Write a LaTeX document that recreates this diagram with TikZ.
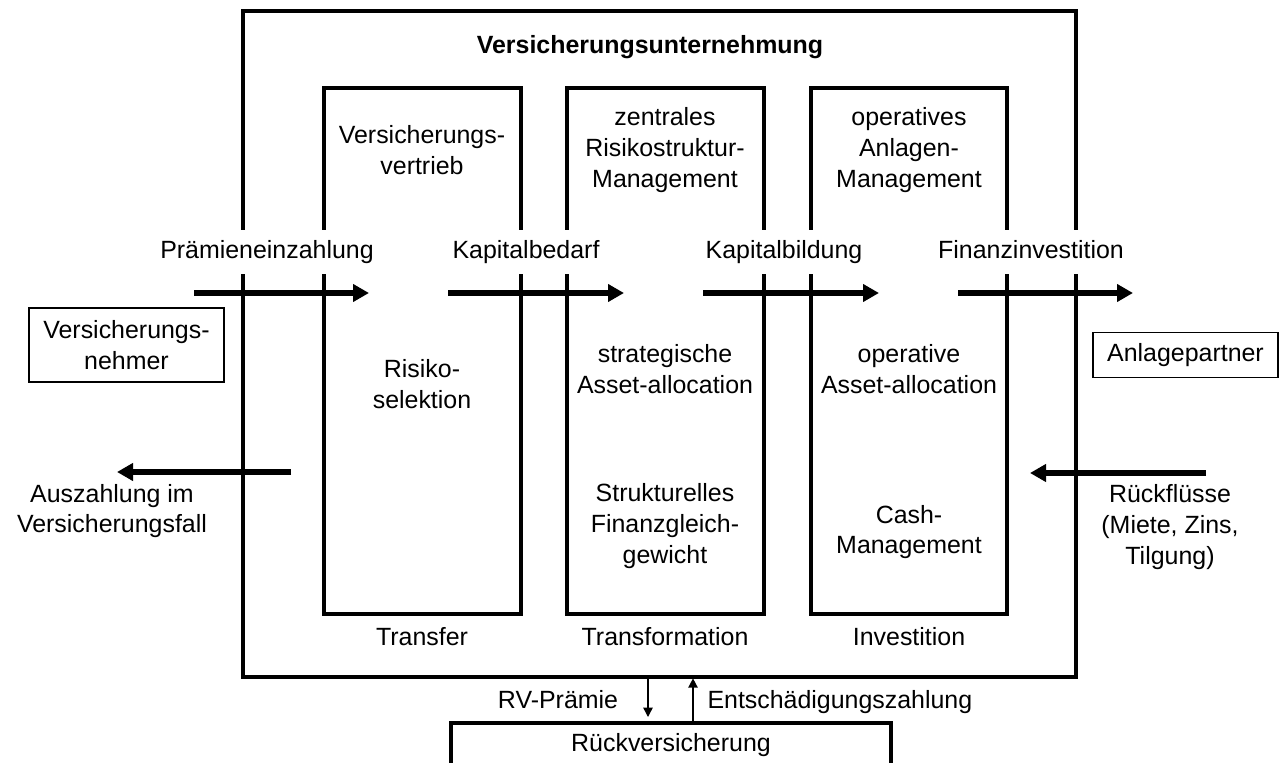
\documentclass[tikz,border=0pt]{standalone}
\usepackage{fontspec}
\setmainfont{Liberation Sans}
\usetikzlibrary{arrows.meta}
\tikzset{every picture/.style={line width=0.75pt}}

\begin{document}
\begin{tikzpicture}[x=0.75pt,y=0.75pt,yscale=-1,xscale=1,
  txt/.style={inner sep=0.75pt,align=center,font=\fontsize{18.7}{23}\selectfont},
  flowlbl/.style={txt,fill=white,text height=13.5pt,text depth=4pt,inner ysep=8pt,inner xsep=3pt},
  outerbox/.style={line width=3pt},
  flow/.style={line width=4.1pt,-{Triangle[length=12pt,width=12.75pt]}},
  smallflow/.style={line width=1.1pt,-{Triangle[length=7pt,width=7pt]}}]
\useasboundingbox (0,0) rectangle (1282,763);

%Shape: company frame
\draw[outerbox] (243,11) rectangle (1076,677);
%Shape: Transfer box
\draw[outerbox] (324,88) rectangle (521,614);
%Shape: Transformation box
\draw[outerbox] (567,88) rectangle (764,614);
%Shape: Investition box
\draw[outerbox] (811,88) rectangle (1007,614);

% Text Node
\node[txt,font=\fontsize{18.7}{23}\selectfont\bfseries] (firma) at (650,47) {Versicherungsunternehmung};
% Text Node
\node[txt] (vertrieb) at (422,150) {Versicherungs-\\vertrieb};
% Text Node
\node[txt] (zentral) at (665,150) {zentrales\\Risikostruktur-\\Management};
% Text Node
\node[txt] (opanlage) at (909,150) {operatives\\Anlagen-\\Management};

% flow labels (cover the box lines)
\node[flowlbl] (praemie) at (267,252) {Prämieneinzahlung};
\node[flowlbl] (bedarf) at (526,252) {Kapitalbedarf};
\node[flowlbl] (bildung) at (784,252) {Kapitalbildung};
\node[flowlbl] (fininv) at (1031,252) {Finanzinvestition};

%Straight Lines: flows
\coordinate (praemieA) at (194,293);
\coordinate (praemieB) at (369,293);
\coordinate (bedarfA) at (448,293);
\coordinate (bedarfB) at (624,293);
\coordinate (bildungA) at (703,293);
\coordinate (bildungB) at (879,293);
\coordinate (fininvA) at (958,293);
\coordinate (fininvB) at (1133,293);
\draw[flow] (praemieA) -- (praemieB);
\draw[flow] (bedarfA) -- (bedarfB);
\draw[flow] (bildungA) -- (bildungB);
\draw[flow] (fininvA) -- (fininvB);

% partners
\node[txt,draw,line width=1.1pt,minimum width=146pt,minimum height=55.5pt] (vn) at (126.5,345) {Versicherungs-\\nehmer};
\node[txt,draw,line width=1.1pt,minimum width=139pt,minimum height=34pt] (anlage) at (1185.5,355) {Anlagepartner};

% Text Node
\node[txt] (risiko) at (422,384) {Risiko-\\selektion};
% Text Node
\node[txt] (strat) at (665,369) {strategische\\Asset-allocation};
% Text Node
\node[txt] (opalloc) at (909,369) {operative\\Asset-allocation};

%Straight Lines: back flows
\coordinate (auszA) at (291,472);
\coordinate (auszB) at (117,472);
\coordinate (rueckA) at (1206,473);
\coordinate (rueckB) at (1030,473);
\draw[flow] (auszA) -- (auszB);
\draw[flow] (rueckA) -- (rueckB);

% Text Node
\node[txt] (auszahlung) at (112,511) {Auszahlung im\\Versicherungsfall};
% Text Node
\node[txt] (struktur) at (665,526) {Strukturelles\\Finanzgleich-\\gewicht};
% Text Node
\node[txt] (cash) at (909,532) {Cash-\\Management};
% Text Node
\node[txt] (rueck) at (1170,527) {Rückflüsse\\(Miete, Zins,\\Tilgung)};

% Text Node
\node[txt] (transfer) at (422,637) {Transfer};
\node[txt] (transform) at (665,637) {Transformation};
\node[txt] (invest) at (909,637) {Investition};

% reinsurance
\node[txt,draw,line width=3pt,minimum width=330pt,minimum height=33pt] (rv) at (671,745) {Rückversicherung};
\coordinate (rvout) at (648,677);
\coordinate (rvin) at (693,677);
\draw[smallflow,shorten >=3pt] (rvout) -- (rvout |- rv.north);
\draw[smallflow,shorten >=1pt] (rvin |- rv.north) -- (rvin);
% Text Node
\node[txt,text height=13.5pt,text depth=4pt] (rvpraemie) at (558,702) {RV-Prämie};
\node[txt,text height=13.5pt,text depth=4pt,anchor=west] (entsch) at (706,702) {Entschädigungszahlung};

\end{tikzpicture}
\end{document}
